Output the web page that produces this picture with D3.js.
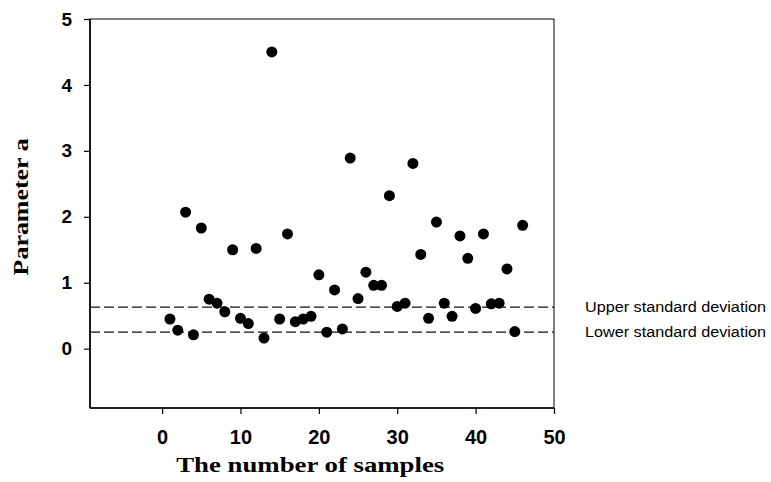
<!DOCTYPE html>
<html>
<head>
<meta charset="utf-8">
<script src="https://cdn.jsdelivr.net/npm/d3@7"></script>
<style>
  body { margin: 0; background: #fff; }
  svg { display: block; }
  .tick text { font-family: "Liberation Sans", Arial, sans-serif; font-weight: bold; fill: #000; }
</style>
</head>
<body>
<div id="chart"></div>
<script>
// sample index -> parameter a
const samples = [1, 2, 3, 4, 5, 6, 7, 8, 9, 10, 11, 12, 13, 14, 15, 16, 17, 18, 19, 20, 21, 22, 23,
  24, 25, 26, 27, 28, 29, 30, 31, 32, 33, 34, 35, 36, 37, 38, 39, 40, 41, 42, 43, 44, 45, 46];
const paramA = [0.45, 0.28, 2.07, 0.21, 1.83, 0.75, 0.69, 0.56, 1.5, 0.46, 0.38, 1.52, 0.16, 4.5,
  0.45, 1.74, 0.41, 0.45, 0.49, 1.12, 0.25, 0.89, 0.30, 2.89, 0.76, 1.16, 0.96, 0.96, 2.32, 0.64,
  0.69, 2.81, 1.43, 0.46, 1.92, 0.69, 0.49, 1.71, 1.37, 0.61, 1.74, 0.68, 0.69, 1.21, 0.26, 1.87];
const sdLines = [
  { label: "Upper standard deviation", value: 0.63 },
  { label: "Lower standard deviation", value: 0.25 },
];
const xTicks = [0, 10, 20, 30, 40, 50];
const yTicks = [0, 1, 2, 3, 4, 5];

const W = 771, H = 482;
const margin = { top: 19, right: 217, bottom: 74, left: 90 };
const innerW = W - margin.left - margin.right;
const innerH = H - margin.top - margin.bottom;

const svg = d3.select("#chart").append("svg").attr("width", W).attr("height", H);
const g = svg.append("g").attr("transform", `translate(${margin.left},${margin.top})`);

const x = d3.scaleLinear().domain([-9.2, 50]).range([0, innerW]);
const y = d3.scaleLinear().domain([-0.9, 5]).range([innerH, 0]);

// thin frame (top + right)
g.append("rect")
  .attr("width", innerW).attr("height", innerH)
  .attr("fill", "none").attr("stroke", "#000").attr("stroke-width", 1);

// std-dev lines
sdLines.forEach((d) => {
  g.append("line")
    .attr("x1", 0).attr("x2", innerW)
    .attr("y1", y(d.value)).attr("y2", y(d.value))
    .attr("stroke", "#111").attr("stroke-width", 1.3)
    .attr("stroke-dasharray", "10,4");
  g.append("text")
    .attr("x", innerW + 31).attr("y", y(d.value))
    .attr("dy", "0.35em")
    .attr("textLength", 181).attr("lengthAdjust", "spacingAndGlyphs")
    .style("font-family", "'Liberation Sans', Arial, sans-serif")
    .style("font-size", "14px")
    .text(d.label);
});

// points
g.selectAll("circle.pt").data(samples).enter().append("circle")
  .attr("class", "pt")
  .attr("cx", (d) => x(d))
  .attr("cy", (d, i) => y(paramA[i]))
  .attr("r", 5.5)
  .attr("fill", "#000");

// axes
const xAxis = g.append("g").attr("transform", `translate(0,${innerH})`)
  .call(d3.axisBottom(x).tickValues(xTicks).tickFormat(d3.format("d")).tickSize(6).tickPadding(16));
xAxis.selectAll("text").style("font-size", "20px");
const yAxis = g.append("g")
  .call(d3.axisLeft(y).tickValues(yTicks).tickFormat(d3.format("d")).tickSize(6).tickPadding(12));
yAxis.selectAll("text").style("font-size", "19px");
[xAxis, yAxis].forEach((a) => {
  a.select(".domain").attr("stroke-width", 1.6);
  a.selectAll(".tick line").attr("stroke-width", 1.2);
});
xAxis.select(".domain").attr("d", `M0,0H${innerW}`);
yAxis.select(".domain").attr("d", `M0,0V${innerH}`);

// axis titles
svg.append("text")
  .attr("x", margin.left + x(18.9)).attr("y", 472)
  .attr("text-anchor", "middle")
  .attr("textLength", 268).attr("lengthAdjust", "spacingAndGlyphs")
  .style("font-family", "'Liberation Serif', 'Times New Roman', serif")
  .style("font-weight", "bold").style("font-size", "22px")
  .text("The number of samples");
svg.append("text")
  .attr("transform", `translate(28,${margin.top + y(2.15)}) rotate(-90)`)
  .attr("text-anchor", "middle")
  .attr("textLength", 137).attr("lengthAdjust", "spacingAndGlyphs")
  .style("font-family", "'Liberation Serif', 'Times New Roman', serif")
  .style("font-weight", "bold").style("font-size", "21px")
  .text("Parameter a");
</script>
</body>
</html>
